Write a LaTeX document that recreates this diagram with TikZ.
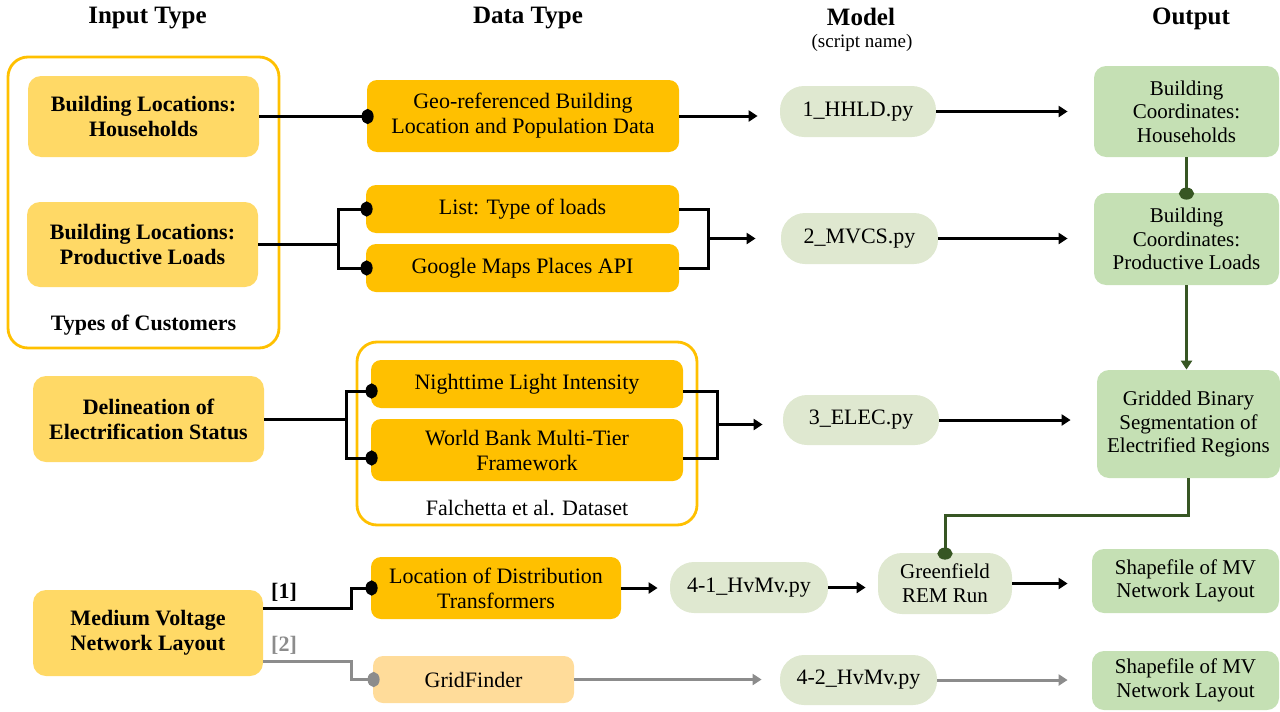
\documentclass[tikz,border=0pt]{standalone}
\usepackage{fontspec}
\setmainfont{Liberation Serif}
\usetikzlibrary{arrows.meta,calc}

\definecolor{inlight}{HTML}{FFD966}
\definecolor{gold}{HTML}{FFC000}
\definecolor{goldpale}{HTML}{FFDC9A}
\definecolor{modelgreen}{HTML}{DFE8D0}
\definecolor{outgreen}{HTML}{C5E0B4}
\definecolor{darkgreen}{HTML}{375623}
\definecolor{linegray}{HTML}{8C8C8C}

\begin{document}
\begin{tikzpicture}[x=0.5pt,y=-0.5pt,
  txt/.style={font=\fontsize{11}{12.5}\selectfont},
  base/.style={align=center, inner sep=0pt, txt},
  hdr/.style={inner sep=0pt, font=\bfseries\fontsize{12.5}{13}\selectfont},
  inbox/.style={base, fill=inlight, rounded corners=6.5pt, font=\bfseries\fontsize{11}{12.5}\selectfont},
  databox/.style={base, fill=gold, rounded corners=5pt},
  modelbox/.style={base, fill=modelgreen, rounded corners=12pt},
  outbox/.style={base, fill=outgreen, rounded corners=6pt, font=\fontsize{10.5}{11.8}\selectfont},
  grpbox/.style={draw=gold, line width=1.4pt, rounded corners=10pt, inner sep=0pt},
  conn/.style={line width=1.5pt, black},
  gconn/.style={line width=1.5pt, linegray},
  vconn/.style={line width=1.5pt, darkgreen},
  dotend/.style={-{Circle[length=6pt,width=7.5pt]}, shorten >=-3.5pt},
  arr/.style={-{Triangle[length=4.5pt,width=5.5pt]}},
]
\useasboundingbox (0,0) rectangle (1280,712);

% column headings
\node[hdr] (hin) at (147.5,18) {Input Type};
\node[hdr] (hdata) at (528,18) {Data Type};
\node[hdr] (hmodel) at (861,17) {Model};
\node[inner sep=0pt, font=\fontsize{9.5}{10}\selectfont] (hscript) at (862,43) {(script name)};
\node[hdr] (hout) at (1191,19) {Output};

% grouping frames
\node[grpbox, minimum width=135.5pt, minimum height=145.5pt] (cust) at (143.5,202.5) {};
\node[inner sep=0pt, font=\bfseries\fontsize{11}{12.5}\selectfont] (custlbl) at (143.5,325) {Types of Customers};
\node[grpbox, minimum width=170pt, minimum height=91.5pt] (falch) at (527,433.5) {};
\node[base] (falchlbl) at (527,508) {Falchetta et al. Dataset};

% input types
\node[inbox, minimum width=115.5pt, minimum height=40.5pt] (hh) at (143.5,116.5) {Building Locations:\\Households};
\node[inbox, minimum width=115.5pt, minimum height=42.5pt] (pl) at (142.5,244.5) {Building Locations:\\Productive Loads};
\node[inbox, minimum width=115.5pt, minimum height=43pt] (del) at (148.5,419) {Delineation of\\Electrification Status};
\node[inbox, minimum width=115pt, minimum height=43pt] (mv) at (148,633) {Medium Voltage\\Network Layout};

% data types
\node[databox, minimum width=156pt, minimum height=36pt] (geo) at (523,116) {Geo-referenced Building\\Location and Population Data};
\node[databox, minimum width=156.5pt, minimum height=24pt] (list) at (522.5,209) {List: Type of loads};
\node[databox, minimum width=156.5pt, minimum height=24pt] (gmap) at (522.5,268) {Google Maps Places API};
\node[databox, minimum width=156pt, minimum height=24pt] (night) at (527,384) {Nighttime Light Intensity};
\node[databox, minimum width=156pt, minimum height=31pt] (wb) at (527,450) {World Bank Multi-Tier\\Framework};
\node[databox, minimum width=125pt, minimum height=31pt] (loc) at (496,588) {Location of Distribution\\Transformers};
\node[databox, fill=goldpale, minimum width=100.5pt, minimum height=23.5pt] (grid) at (473.5,679.5) {GridFinder};

% models
\node[modelbox, minimum width=78pt, minimum height=25.5pt] (m1) at (858,111.5) {1\_HHLD.py};
\node[modelbox, minimum width=78.5pt, minimum height=25.5pt] (m2) at (859.5,238.5) {2\_MVCS.py};
\node[modelbox, minimum width=78pt, minimum height=25pt] (m3) at (861,420) {3\_ELEC.py};
\node[modelbox, minimum width=79pt, minimum height=25.5pt] (m41) at (749,587.5) {4-1\_HvMv.py};
\node[modelbox, minimum width=67pt, minimum height=30.5pt, font=\fontsize{10.5}{12}\selectfont] (gf) at (945,583.5) {Greenfield\\REM Run};
\node[modelbox, minimum width=78.5pt, minimum height=25pt] (m42) at (858.5,680) {4-2\_HvMv.py};

% outputs
\node[outbox, minimum width=92.5pt, minimum height=45.5pt] (o1) at (1186.5,111.5) {Building\\Coordinates:\\Households};
\node[outbox, minimum width=92.5pt, minimum height=46pt] (o2) at (1186.5,239) {Building\\Coordinates:\\Productive Loads};
\node[outbox, minimum width=91.5pt, minimum height=54pt] (o3) at (1188.5,424) {Gridded Binary\\Segmentation of\\Electrified Regions};
\node[outbox, minimum width=93.5pt, minimum height=32pt] (o4) at (1185.5,581) {Shapefile of MV\\Network Layout};
\node[outbox, minimum width=93.5pt, minimum height=29.5pt] (o5) at (1185.5,680.5) {Shapefile of MV\\Network Layout};

% households chain
\draw[conn, dotend] (hh.east) -- (hh.east -| geo.west);
\draw[conn, arr, shorten >=11pt] (geo.east) -- (geo.east -| m1.west);
\draw[conn, arr, shorten >=13pt] (m1.east) -- (m1.east -| o1.west);

% productive loads chain
\draw[conn, dotend] (pl.east) -- ++(80,0) |- (list.west);
\draw[conn, dotend] (pl.east) -- ++(80,0) |- (gmap.west);
\draw[conn] (list.east) -- ++(29,0) |- (gmap.east);
\coordinate (pj) at ($(list.east)!0.5!(gmap.east)+(29,0)$);
\draw[conn, arr, shorten >=12.5pt] (pj) -- (pj -| m2.west);
\draw[conn, arr, shorten >=13pt] (m2.east) -- (m2.east -| o2.west);

% electrification chain
\draw[conn, dotend] (del.east) -- ++(82,0) |- ([yshift=-3.5pt]night.west);
\draw[conn, dotend] (del.east) -- ++(82,0) |- ([yshift=-4pt]wb.west);
\draw[conn] ([yshift=-3.5pt]night.east) -- ++(34,0) |- ([yshift=-4pt]wb.east);
\coordinate (ej) at ($([yshift=-3.5pt]night.east)!0.5!([yshift=-4pt]wb.east)+(34,0)$);
\draw[conn, arr, shorten >=10pt] (ej) -- (ej -| m3.west);
\draw[conn, arr, shorten >=13pt] (m3.east) -- (m3.east -| o3.west);

% medium voltage network options
\draw[conn, dotend] ([yshift=12.5pt]mv.east) -- ++(88,0) |- (loc.west);
\node[inner sep=0pt, font=\bfseries\fontsize{11}{12.5}\selectfont] (opt1) at (284,592) {[1]};
\draw[gconn, dotend] ([yshift=-14pt]mv.east) -- ++(88,0) |- (grid.west);
\node[inner sep=0pt, text=linegray, font=\bfseries\fontsize{11}{12.5}\selectfont] (opt2) at (284,645) {[2]};
\draw[conn, arr, shorten >=6pt] (loc.east) -- (loc.east -| m41.west);
\draw[conn, arr, shorten >=6pt] (m41.east) -- (m41.east -| gf.west);
\draw[conn, arr, shorten >=12pt] (gf.east) -- (gf.east -| o4.west);
\draw[gconn, arr, shorten >=9pt] (grid.east) -- (grid.east -| m42.west);
\draw[gconn, arr, shorten >=12pt] (m42.east) -- (m42.east -| o5.west);

% links between outputs
\draw[vconn, dotend] (o1.south) -- (o2.north);
\draw[vconn, arr] (o2.south) -- (o2.south |- o3.north);
\draw[vconn, dotend] (o3.south) -- ++(0,37) -| (gf.north);
\end{tikzpicture}
\end{document}
